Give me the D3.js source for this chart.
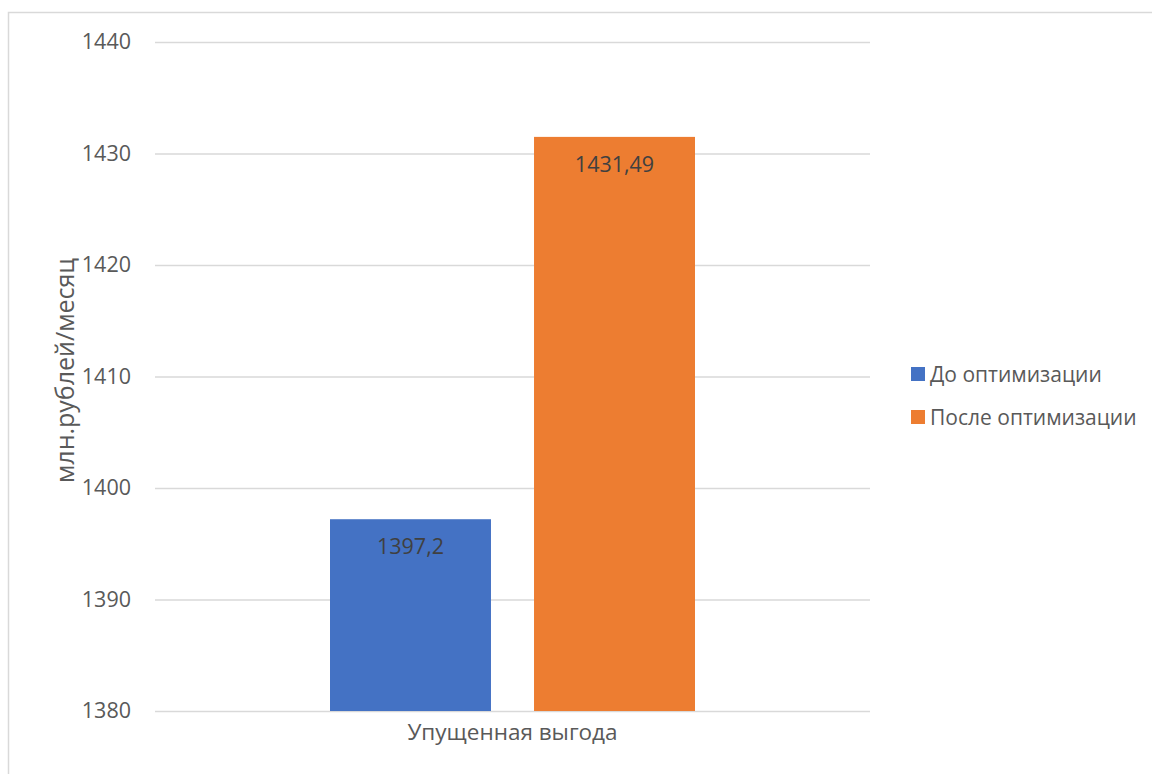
<!DOCTYPE html>
<html>
<head>
<meta charset="utf-8">
<script src="https://cdn.jsdelivr.net/npm/d3@7"></script>
<style>
  html, body { margin: 0; padding: 0; background: #fff; }
  svg { display: block; font-family: "Open Sans", "Liberation Sans", sans-serif; }
</style>
</head>
<body>
<div id="chart"></div>
<script>
const categories = ["Упущенная выгода"];
const seriesNames = ["До оптимизации", "После оптимизации"];
const seriesValues = [[1397.2], [1431.49]];
const valueLabels = [["1397,2"], ["1431,49"]];
const yTicks = [1380, 1390, 1400, 1410, 1420, 1430, 1440];
const yTitle = "млн.рублей/месяц";
const colors = ["#4472C4", "#ED7D31"];

const width = 1152, height = 774;
const margin = {top: 42, right: 282, bottom: 63, left: 155};

const svg = d3.select("#chart").append("svg")
  .attr("width", width)
  .attr("height", height);

// chart area border
svg.append("rect")
  .attr("x", 8.5).attr("y", 12.5)
  .attr("width", width + 10).attr("height", height + 10)
  .attr("fill", "none")
  .attr("stroke", "#d9d9d9")
  .attr("stroke-width", 1.5);

const y = d3.scaleLinear()
  .domain([1380, 1440])
  .range([height - margin.bottom, margin.top]);

const x0 = d3.scaleBand()
  .domain(categories)
  .range([margin.left, width - margin.right])
  .paddingOuter(0.4795);

const x1 = d3.scaleBand()
  .domain(seriesNames)
  .range([0, x0.bandwidth()])
  .paddingInner(0.211)
  .paddingOuter(0);

// gridlines
const yAxis = g => g
  .attr("transform", `translate(${margin.left},0)`)
  .call(d3.axisLeft(y).tickValues(yTicks).tickSize(-(width - margin.left - margin.right)).tickPadding(24).tickFormat(d3.format("d")))
  .call(g => g.select(".domain").remove())
  .call(g => g.selectAll(".tick line").attr("stroke", "#d9d9d9").attr("stroke-width", 1.5))
  .call(g => g.selectAll(".tick text")
    .attr("fill", "#595959")
    .attr("font-size", "21.5px")
    .attr("font-family", "\"Open Sans\", sans-serif"));

svg.append("g").call(yAxis);

// bars
const groups = svg.append("g")
  .selectAll("g")
  .data(categories)
  .join("g")
  .attr("transform", d => `translate(${x0(d)},0)`);

seriesNames.forEach((name, si) => {
  groups.append("rect")
    .attr("x", x1(name))
    .attr("y", (d, ci) => y(seriesValues[si][ci]))
    .attr("width", x1.bandwidth())
    .attr("height", (d, ci) => y(1380) - y(seriesValues[si][ci]))
    .attr("fill", colors[si]);

  groups.append("text")
    .attr("x", x1(name) + x1.bandwidth() / 2)
    .attr("y", (d, ci) => y(seriesValues[si][ci]) + 35)
    .attr("text-anchor", "middle")
    .attr("fill", "#404040")
    .attr("font-size", "21.5px")
    .text((d, ci) => valueLabels[si][ci]);
});

// x axis labels
const xAxis = g => g
  .attr("transform", `translate(0,${height - margin.bottom})`)
  .call(d3.axisBottom(x0).tickSize(0).tickPadding(13))
  .call(g => g.select(".domain").remove())
  .call(g => g.selectAll(".tick text")
    .attr("fill", "#595959")
    .attr("font-size", "22.5px")
    .attr("font-family", "\"Open Sans\", sans-serif"));

svg.append("g").call(xAxis);

// y title
svg.append("text")
  .attr("transform", `translate(74,${(y(1380) + y(1440)) / 2 - 6})rotate(-90)`)
  .attr("text-anchor", "middle")
  .attr("fill", "#595959")
  .attr("font-size", "25px")
  .text(yTitle);

// legend
const legend = svg.append("g")
  .selectAll("g")
  .data(seriesNames)
  .join("g")
  .attr("transform", (d, i) => `translate(911,${367 + i * 43})`);

legend.append("rect")
  .attr("width", 14).attr("height", 14)
  .attr("fill", (d, i) => colors[i]);

legend.append("text")
  .attr("x", 19).attr("y", 15)
  .attr("fill", "#595959")
  .attr("font-size", "21px")
  .text(d => d);
</script>
</body>
</html>
